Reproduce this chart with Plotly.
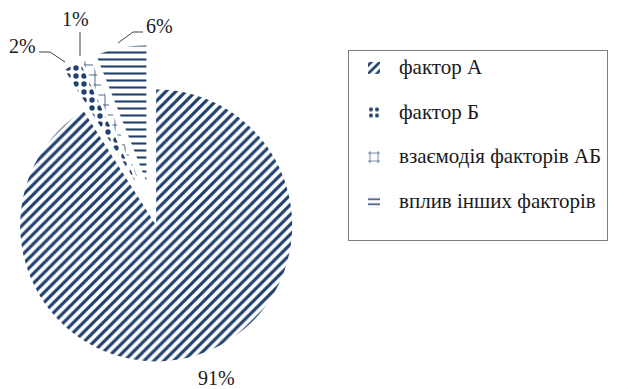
import math
import plotly.graph_objects as go

# ---- data ----
labels = ["фактор А", "фактор Б", "взаємодія факторів АБ", "вплив інших факторів"]
values = [91, 2, 1, 6]

# ---- styling ----
pattern_shapes = ["/", ".", "+", "-"]
pattern_sizes = [7, 8, 10, 7]
pattern_solidity = [0.45, 0.35, 0.15, 0.3]
pull_px = [15, 30, 28, 30]          # explosion distance of each slice (px)
label_px = [(216, 378), (22, 46), (75, 19), (159, 26)]   # percentage label centres (px)
leaders_px = [None, [(39, 52), (50, 52), (65, 62)], [(80, 32), (80, 56)],
              [(143, 32), (133, 32), (118, 43)]]

NAVY = "#1F3F6F"
FONT = "Liberation Serif"
W, H = 628, 389
R = 136
OX, OY = 152, 211

total = sum(values)
bis = []
cum = 0
for v in values:
    bis.append((cum + v / 2) / total * 2 * math.pi)
    cum += v

fig = go.Figure()

# legend-only trace (tiny, invisible pie)
legend_labels = [f"<span style='font-size:21px'>{l}</span><br>\u00a0" for l in labels]
fig.add_trace(go.Pie(
    labels=legend_labels, values=values, sort=False,
    direction="clockwise", rotation=0,
    marker=dict(colors=["white"] * 4, line=dict(width=0),
                pattern=dict(shape=pattern_shapes, size=[6, 6, 8, 5],
                             solidity=pattern_solidity, fgcolor=NAVY, bgcolor="white")),
    domain=dict(x=[0.999, 1], y=[0, 0.001]),
    textinfo="none", hoverinfo="skip", showlegend=True))

for i in range(len(values)):
    cx = OX + pull_px[i] * math.sin(bis[i])
    cy = OY - pull_px[i] * math.cos(bis[i])
    colors = ["rgba(0,0,0,0)"] * len(values)
    colors[i] = "white"
    shapes = [""] * len(values)
    shapes[i] = pattern_shapes[i]
    fig.add_trace(go.Pie(
        labels=labels, values=values, sort=False, direction="clockwise", rotation=0,
        marker=dict(colors=colors, line=dict(width=0),
                    pattern=dict(shape=shapes, size=pattern_sizes, solidity=pattern_solidity,
                                 fgcolor=NAVY, bgcolor="white")),
        domain=dict(x=[(cx - R) / W, (cx + R) / W], y=[1 - (cy + R) / H, 1 - (cy - R) / H]),
        textinfo="none", hoverinfo="skip", showlegend=False))

annotations = []
for i, v in enumerate(values):
    x, y = label_px[i]
    annotations.append(dict(
        x=x / W, y=1 - y / H, xref="paper", yref="paper", showarrow=False,
        text=f"{round(v / total * 100)}%", font=dict(family=FONT, size=20, color="#1a1a1a"),
        xanchor="center", yanchor="middle"))

shapes_layout = []
for pts in leaders_px:
    if not pts:
        continue
    path = "M " + " L ".join(f"{px / W},{1 - py / H}" for px, py in pts)
    shapes_layout.append(dict(type="path", xref="paper", yref="paper", path=path,
                              line=dict(color="#404040", width=1)))

fig.update_layout(
    width=W, height=H,
    margin=dict(l=0, r=0, t=0, b=0),
    paper_bgcolor="white", plot_bgcolor="white",
    font=dict(family=FONT, color="#1a1a1a"),
    showlegend=True,
    legend=dict(x=348 / W, y=1 - 50 / H, xanchor="left", yanchor="top",
                bordercolor="#7f7f7f", borderwidth=1, bgcolor="white",
                font=dict(family=FONT, size=16, color="#1a1a1a"),
                valign="top", itemwidth=40),
    annotations=annotations,
    shapes=shapes_layout,
)

fig.write_html("out.html")
